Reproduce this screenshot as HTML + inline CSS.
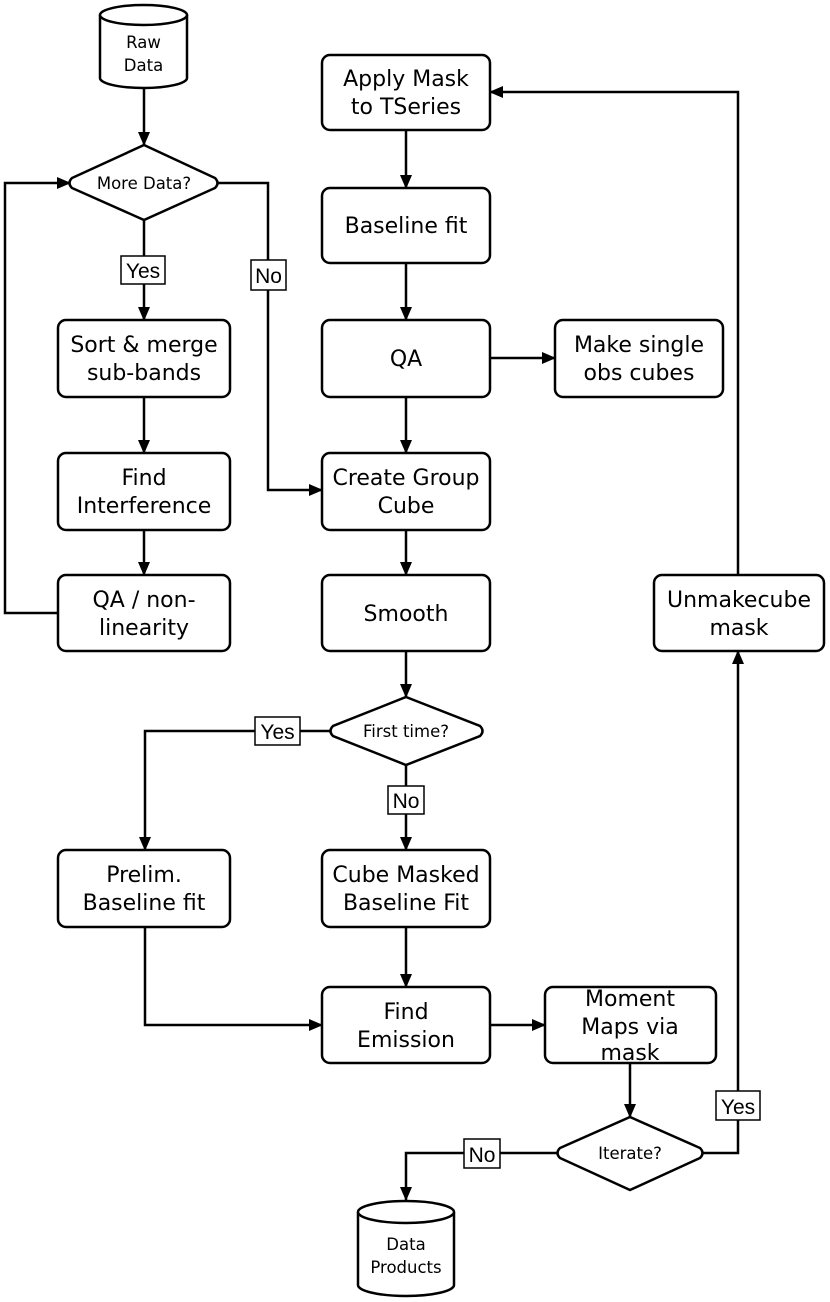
<!DOCTYPE html>
<html><head><style>body{margin:0;background:#fff}svg{display:block}</style></head><body>
<svg width="830" height="1302" viewBox="0 0 830 1302" xmlns="http://www.w3.org/2000/svg" font-family="'DejaVu Sans','Liberation Sans',sans-serif">
<defs><marker id="a" markerWidth="14" markerHeight="12" refX="13" refY="6" orient="auto" markerUnits="userSpaceOnUse"><path d="M0,0 L14,6 L0,12 z" fill="#000"/></marker></defs>
<g stroke="#000" stroke-width="2.5" fill="none">
<path d="M144,88 V145" marker-end="url(#a)"/>
<path d="M144,220 V320" marker-end="url(#a)"/>
<path d="M144,397 V453" marker-end="url(#a)"/>
<path d="M144,530 V575" marker-end="url(#a)"/>
<path d="M58,613 H5 V183 H70" marker-end="url(#a)"/>
<path d="M217,183 H268 V490 H322" marker-end="url(#a)"/>
<path d="M406,130 V188" marker-end="url(#a)"/>
<path d="M406,263 V320" marker-end="url(#a)"/>
<path d="M406,397 V453" marker-end="url(#a)"/>
<path d="M490,358 H555" marker-end="url(#a)"/>
<path d="M406,530 V575" marker-end="url(#a)"/>
<path d="M406,651 V697" marker-end="url(#a)"/>
<path d="M332,731 H145 V850" marker-end="url(#a)"/>
<path d="M406,765 V850" marker-end="url(#a)"/>
<path d="M406,927 V987" marker-end="url(#a)"/>
<path d="M145,927 V1025 H322" marker-end="url(#a)"/>
<path d="M490,1025 H545" marker-end="url(#a)"/>
<path d="M630,1063 V1117" marker-end="url(#a)"/>
<path d="M703,1153 H738 V651" marker-end="url(#a)"/>
<path d="M738,575 V92 H490" marker-end="url(#a)"/>
<path d="M557,1153 H406 V1200" marker-end="url(#a)"/>
<path d="M100,15 V78 A43.5,10 0 0 0 187,78 V15" fill="#fff"/>
<ellipse cx="143.5" cy="15" rx="43.5" ry="10" fill="#fff"/>
<path d="M358,1212 V1285 A48,11 0 0 0 454,1285 V1212" fill="#fff"/>
<ellipse cx="406" cy="1212" rx="48" ry="11" fill="#fff"/>
<path d="M144,145 L215,178 Q220,183 215,188 L144,220 L72,188 Q67,183 72,178 Z" fill="#fff"/>
<path d="M406,697 L480,726 Q485,731 480,736 L406,765 L333,736 Q328,731 333,726 Z" fill="#fff"/>
<path d="M630,1117 L700,1148 Q705,1153 700,1158 L630,1190 L560,1158 Q555,1153 560,1148 Z" fill="#fff"/>
<g fill="#fff">
<rect x="58" y="320" width="172" height="77" rx="8"/>
<rect x="58" y="453" width="172" height="77" rx="8"/>
<rect x="58" y="575" width="172" height="76" rx="8"/>
<rect x="322" y="55" width="168" height="75" rx="8"/>
<rect x="322" y="188" width="168" height="75" rx="8"/>
<rect x="322" y="320" width="168" height="77" rx="8"/>
<rect x="322" y="453" width="168" height="77" rx="8"/>
<rect x="322" y="575" width="168" height="76" rx="8"/>
<rect x="555" y="320" width="168" height="77" rx="8"/>
<rect x="654" y="575" width="170" height="76" rx="8"/>
<rect x="58" y="850" width="172" height="77" rx="8"/>
<rect x="322" y="850" width="168" height="77" rx="8"/>
<rect x="322" y="987" width="168" height="76" rx="8"/>
<rect x="545" y="987" width="171" height="76" rx="8"/>
</g>
</g>
<g stroke="#000" stroke-width="1.5" fill="#fff">
<rect x="121" y="256" width="44" height="28"/>
<rect x="251" y="260" width="35" height="30"/>
<rect x="255" y="717" width="45" height="28"/>
<rect x="388" y="786" width="36" height="28"/>
<rect x="716" y="1091" width="44" height="29"/>
<rect x="464" y="1139" width="36" height="29"/>
</g>
<g font-family="'Liberation Sans',sans-serif" font-size="21" text-anchor="middle">
<text x="143" y="278">Yes</text>
<text x="268.5" y="283">No</text>
<text x="277.5" y="739">Yes</text>
<text x="406" y="808">No</text>
<text x="738" y="1114">Yes</text>
<text x="482" y="1162">No</text>
</g>
<g font-size="16.5" text-anchor="middle">
<text x="143.5" y="48">Raw</text><text x="143.5" y="71">Data</text>
<text x="144" y="189">More Data?</text>
<text x="406" y="737">First time?</text>
<text x="630" y="1159">Iterate?</text>
<text x="406" y="1250">Data</text><text x="406" y="1273">Products</text>
</g>
<g font-size="22" text-anchor="middle">
<text x="144" y="352">Sort &amp; merge</text><text x="144" y="380">sub-bands</text>
<text x="144" y="485">Find</text><text x="144" y="513">Interference</text>
<text x="144" y="607">QA / non-</text><text x="144" y="635">linearity</text>
<text x="406" y="86">Apply Mask</text><text x="406" y="114">to TSeries</text>
<text x="406" y="233">Baseline fit</text>
<text x="406" y="366">QA</text>
<text x="639" y="352">Make single</text><text x="639" y="380">obs cubes</text>
<text x="406" y="485">Create Group</text><text x="406" y="513">Cube</text>
<text x="406" y="621">Smooth</text>
<text x="739" y="607">Unmakecube</text><text x="739" y="635">mask</text>
<text x="144" y="882">Prelim.</text><text x="144" y="910">Baseline fit</text>
<text x="406" y="882">Cube Masked</text><text x="406" y="910">Baseline Fit</text>
<text x="406" y="1019">Find</text><text x="406" y="1047">Emission</text>
<text x="630" y="1006">Moment</text><text x="630" y="1034">Maps via</text><text x="630" y="1060">mask</text>
</g>
</svg>
</body></html>
